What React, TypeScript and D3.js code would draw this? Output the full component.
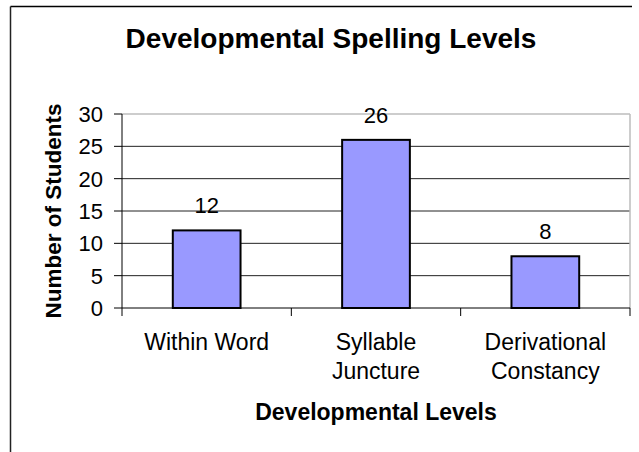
import React, { useEffect } from "react";
import * as d3 from "d3";

const categories: string[][] = [["Within Word"], ["Syllable", "Juncture"], ["Derivational", "Constancy"]];
const values: number[] = [12, 26, 8];
const yTicks: number[] = [0, 5, 10, 15, 20, 25, 30];
const chartTitle = "Developmental Spelling Levels";
const xTitle = "Developmental Levels";
const yTitle = "Number of Students";

const W = 639;
const H = 452;
const plot = { left: 122, right: 630, top: 114, bottom: 308 };
const FONT = "'Liberation Sans', Arial, sans-serif";

export default function App() {
  useEffect(() => {
    document.body.style.margin = "0";
  }, []);

  const keys = categories.map((c) => c.join(" "));
  const x = d3
    .scaleBand<string>()
    .domain(keys)
    .range([plot.left, plot.right])
    .paddingInner(0.6)
    .paddingOuter(0.3);
  const y = d3.scaleLinear().domain([0, 30]).range([plot.bottom, plot.top]);
  const step = x.step();
  const boundaries = d3.range(keys.length + 1).map((i) => plot.left + i * step);

  return (
    <svg width={W} height={H} style={{ display: "block" }} fontFamily={FONT}>
      <rect x={0} y={0} width={W} height={H} fill="#fff" />
      {/* outer frame */}
      <line x1={10.5} y1={6.5} x2={632} y2={6.5} stroke="#000" strokeWidth={1.5} />
      <line x1={10.5} y1={6.5} x2={10.5} y2={H} stroke="#222" strokeWidth={1.5} />

      {/* title */}
      <text x={331} y={48} textAnchor="middle" fontSize={28} fontWeight="bold" fill="#000">
        {chartTitle}
      </text>

      {/* gridlines */}
      {yTicks
        .filter((t) => t > 0 && t < 30)
        .map((t) => (
          <line key={"g" + t} x1={plot.left} x2={plot.right} y1={y(t)} y2={y(t)} stroke="#222" strokeWidth={1} />
        ))}
      {/* plot border top/right */}
      <line x1={plot.left} x2={plot.right} y1={y(30)} y2={y(30)} stroke="#bdbdbd" strokeWidth={1.5} />
      <line x1={plot.right} x2={plot.right} y1={y(30)} y2={plot.bottom} stroke="#bdbdbd" strokeWidth={1.5} />

      {/* bars */}
      {values.map((v, i) => (
        <rect
          key={"b" + i}
          x={x(keys[i])!}
          y={y(v)}
          width={x.bandwidth()}
          height={y(0) - y(v)}
          fill="#9999FF"
          stroke="#000"
          strokeWidth={2}
        />
      ))}

      {/* data labels */}
      {values.map((v, i) => (
        <text key={"d" + i} x={x(keys[i])! + x.bandwidth() / 2} y={y(v) - 17} textAnchor="middle" fontSize={22} fill="#000">
          {v}
        </text>
      ))}

      {/* y axis */}
      <line x1={plot.left} x2={plot.left} y1={plot.top} y2={plot.bottom} stroke="#000" strokeWidth={1} />
      {yTicks.map((t) => (
        <g key={"yt" + t}>
          <line x1={plot.left - 8} x2={plot.left} y1={y(t)} y2={y(t)} stroke="#000" strokeWidth={1} />
          <text x={103} y={y(t)} dy="0.36em" textAnchor="end" fontSize={22} fill="#000">
            {t}
          </text>
        </g>
      ))}

      {/* x axis */}
      <line x1={plot.left} x2={plot.right} y1={plot.bottom} y2={plot.bottom} stroke="#000" strokeWidth={1} />
      {boundaries.map((b, i) => (
        <line key={"xt" + i} x1={b} x2={b} y1={plot.bottom} y2={plot.bottom + 8} stroke="#000" strokeWidth={1} />
      ))}
      {categories.map((lines, i) => (
        <text key={"c" + i} x={x(keys[i])! + x.bandwidth() / 2} y={349.5} textAnchor="middle" fontSize={23} fill="#000">
          {lines.map((l, j) => (
            <tspan key={j} x={x(keys[i])! + x.bandwidth() / 2} dy={j === 0 ? 0 : 29.5}>
              {l}
            </tspan>
          ))}
        </text>
      ))}

      {/* axis titles */}
      <text x={(plot.left + plot.right) / 2} y={420} textAnchor="middle" fontSize={23} fontWeight="bold" fill="#000">
        {xTitle}
      </text>
      <text
        transform={`translate(61, ${(plot.top + plot.bottom) / 2}) rotate(-90)`}
        textAnchor="middle"
        fontSize={22.5}
        fontWeight="bold"
        fill="#000"
      >
        {yTitle}
      </text>
    </svg>
  );
}
